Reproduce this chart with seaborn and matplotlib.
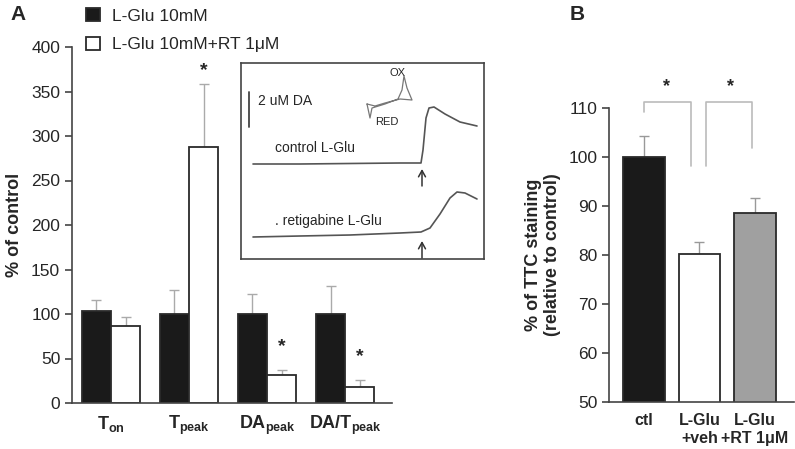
import matplotlib
matplotlib.use("Agg")
import matplotlib.pyplot as plt
import seaborn as sns
import pandas as pd

# ---- data: panel A ----
measures = [r"$\mathbf{T_{on}}$", r"$\mathbf{T_{peak}}$", r"$\mathbf{DA_{peak}}$", r"$\mathbf{DA/T_{peak}}$"]
conditions = ["L-Glu 10mM", "L-Glu 10mM+RT 1\u03bcM"]
glu_mean = [103, 100, 100, 100]
glu_err = [13, 27, 22, 31]
rt_mean = [86, 288, 31, 18]
rt_err = [11, 70, 6, 8]
star_a = [None, 374, 63, 52]

# ---- data: panel B ----
groups_b = ["ctl", "L-Glu\n+veh", "L-Glu\n+RT 1\u03bcM"]
ttc_mean = [100.0, 80.2, 88.5]
ttc_err = [4.3, 2.5, 3.2]
# brackets: (x_left, x_right, y_left_end, y_right_end, y_top), star x
brackets_b = [(0.0, 0.84, 109.2, 98.2, 111.2), (1.11, 1.95, 98.2, 101.8, 111.2)]
stars_b = [(0.41, 114.3), (1.55, 114.3)]

# ---- inset traces (inset pixel coords, y downward) ----
ctl_x = [12, 59, 109, 159, 180, 182, 185, 188, 193, 204, 219, 236]
ctl_y = [101, 101, 100.5, 100, 100, 87, 55, 45, 44, 51, 59, 63]
ret_x = [12, 59, 109, 159, 180, 189, 199, 209, 216, 224, 236]
ret_y = [174, 173, 172, 170, 169, 165, 151, 135, 129, 130, 136]
cv_x = [126, 129, 131, 144, 157, 161, 163, 166, 171, 159, 144, 134, 126]
cv_y = [41, 55, 45, 41, 36, 27, 13, 25, 37, 36, 40, 43, 41]

sns.set_style("ticks")
plt.rcParams["font.family"] = ["Liberation Sans", "DejaVu Sans"]
plt.rcParams["mathtext.fontset"] = "custom"
plt.rcParams["mathtext.bf"] = "Liberation Sans:bold"
plt.rcParams["mathtext.rm"] = "Liberation Sans:bold"

W, H = 795, 449
def rect(l, t, r, b):
    return [l / W, 1 - b / H, (r - l) / W, (b - t) / H]

fig = plt.figure(figsize=(W / 100, H / 100), dpi=100)
fig.patch.set_facecolor("white")
spine_c = "#444444"

# ---------------- Panel A ----------------
axA = fig.add_axes(rect(72, 47, 392, 403))
dfA = pd.DataFrame({
    "measure": measures * 2,
    "value": glu_mean + rt_mean,
    "cond": [conditions[0]] * 4 + [conditions[1]] * 4,
})
sns.barplot(data=dfA, x="measure", y="value", hue="cond", order=measures,
            hue_order=conditions, palette=["#1a1a1a", "white"], width=0.75,
            edgecolor="#2a2a2a", linewidth=1.3, errorbar=None, ax=axA)
for cont, errs in zip(axA.containers, [glu_err, rt_err]):
    for p, e in zip(cont.patches, errs):
        cx = p.get_x() + p.get_width() / 2
        axA.errorbar(cx, p.get_height(), yerr=[[0], [e]], color="#aaaaaa",
                     capsize=3.5, lw=1, capthick=1, zorder=0.5)
for p, s in zip(axA.containers[1].patches, star_a):
    if s is not None:
        axA.text(p.get_x() + p.get_width() / 2, s, "*", ha="center", va="center",
                 fontsize=14, fontweight="bold")
axA.set_ylim(0, 400)
axA.set_xlim(-0.5, 3.6)
axA.set_yticks(range(0, 401, 50))
axA.set_xlabel("")
axA.set_ylabel("% of control", fontsize=13, fontweight="bold", labelpad=6)
axA.tick_params(axis="y", labelsize=12.5, length=5, color=spine_c, width=1.2)
axA.tick_params(axis="x", labelsize=13, length=0, pad=8)
sns.despine(ax=axA)
for s in ["left", "bottom"]:
    axA.spines[s].set_color(spine_c)
    axA.spines[s].set_linewidth(1.2)
sns.move_legend(axA, "upper left", bbox_to_anchor=(86 / W, 1 - 8 / H),
                bbox_transform=fig.transFigure, frameon=False, title=None,
                fontsize=12.5, handlelength=0.8, handleheight=0.8,
                handletextpad=0.7, labelspacing=0.75, borderpad=0,
                borderaxespad=0)

# inset
axI = fig.add_axes(rect(241, 63, 484, 259))
axI.plot(ctl_x, ctl_y, color="#555555", lw=1.2)
axI.plot(ret_x, ret_y, color="#555555", lw=1.2)
axI.plot(cv_x, cv_y, color="#777777", lw=0.9)
axI.set_xlim(0, 243)
axI.set_ylim(196, 0)
axI.set_xticks([])
axI.set_yticks([])
for s in axI.spines.values():
    s.set_color(spine_c)
    s.set_linewidth(1.2)
axI.plot([8, 8], [29, 64], color="#444444", lw=1.3)
axI.text(17, 38, "2 uM DA", fontsize=10, va="center")
axI.text(157, 10, "OX", fontsize=8, ha="center", va="center")
axI.text(146, 59, "RED", fontsize=8, ha="center", va="center")
axI.text(34, 85, "control L-Glu", fontsize=10, va="center")
axI.text(34, 158, ". retigabine L-Glu", fontsize=10, va="center")
for y0, y1 in [(123, 106), (195, 178)]:
    axI.annotate("", xy=(181, y1), xytext=(181, y0),
                 arrowprops=dict(arrowstyle="->,head_length=0.45,head_width=0.25",
                                 color="#333333", lw=1.1, shrinkA=0, shrinkB=0))

# ---------------- Panel B ----------------
axB = fig.add_axes(rect(609, 108, 794, 402))
dfB = pd.DataFrame({"group": groups_b, "value": ttc_mean})
sns.barplot(data=dfB, x="group", y="value", hue="group", order=groups_b,
            palette=["#1a1a1a", "white", "#a0a0a0"], width=0.75, legend=False,
            edgecolor="#2a2a2a", linewidth=1.3, errorbar=None, ax=axB)
for p, e in zip(axB.patches, ttc_err):
    cx = p.get_x() + p.get_width() / 2
    axB.errorbar(cx, p.get_height(), yerr=[[0], [e]], color="#999999",
                 capsize=3.5, lw=1, capthick=1, zorder=0.5)
for xl, xr, yl, yr, yt in brackets_b:
    axB.plot([xl, xl, xr, xr], [yl, yt, yt, yr], color="#bbbbbb", lw=1.2,
             clip_on=False)
for sx, sy in stars_b:
    axB.text(sx, sy, "*", ha="center", va="center", fontsize=13,
             fontweight="bold", clip_on=False)
axB.set_ylim(50, 110)
axB.set_xlim(-0.625, 2.7)
axB.set_yticks(range(50, 111, 10))
axB.set_xlabel("")
axB.set_ylabel("% of TTC staining\n(relative to control)", fontsize=13,
               fontweight="bold", labelpad=5)
axB.tick_params(axis="y", labelsize=12.5, length=5, color=spine_c, width=1.2)
axB.tick_params(axis="x", labelsize=11.5, length=0, pad=8)
for lab in axB.get_xticklabels():
    lab.set_fontweight("bold")
sns.despine(ax=axB)
for s in ["left", "bottom"]:
    axB.spines[s].set_color(spine_c)
    axB.spines[s].set_linewidth(1.2)

fig.text(10 / W, 1 - 14 / H, "A", fontsize=15, fontweight="bold", va="center")
fig.text(570 / W, 1 - 14 / H, "B", fontsize=15, fontweight="bold", va="center")

fig.savefig("out.png", dpi=100)
